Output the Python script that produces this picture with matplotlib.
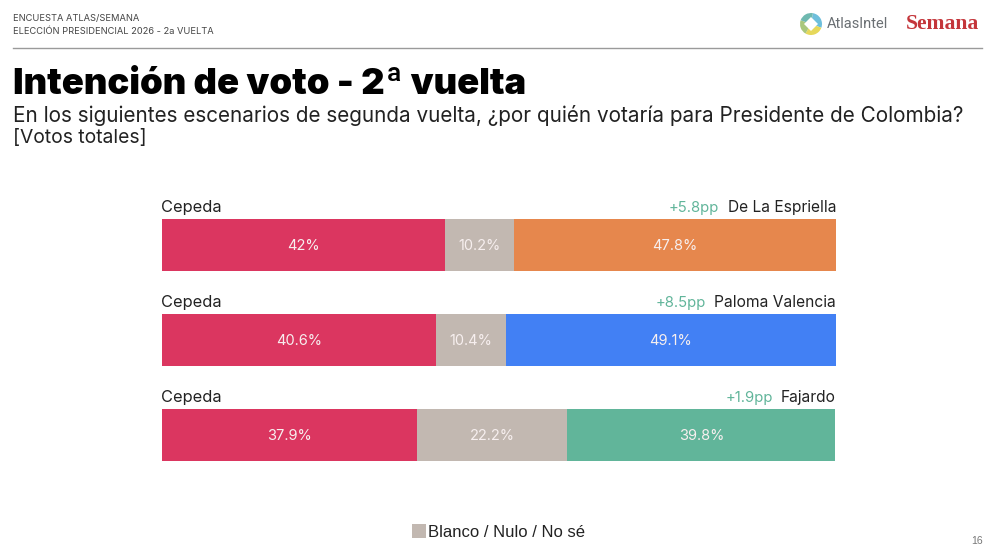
"""Encuesta Atlas/Semana - intencion de voto 2a vuelta, stacked bars."""

from matplotlib import pyplot as plt
from matplotlib.patches import Polygon, Rectangle, Wedge

W, H = 998, 555

candidates = ['De La Espriella', 'Paloma Valencia', 'Fajardo']
left_name = 'Cepeda'
cepeda = [42, 40.6, 37.9]
blanco = [10.2, 10.4, 22.2]
rival = [47.8, 49.1, 39.8]
cepeda_labels = ['42%', '40.6%', '37.9%']
blanco_labels = ['10.2%', '10.4%', '22.2%']
rival_labels = ['47.8%', '49.1%', '39.8%']
margins = ['+5.8pp', '+8.5pp', '+1.9pp']
rival_colors = ['#E6874D', '#4280F4', '#61B59A']

red = '#DB3660'
grey = '#C2B8B1'
teal = '#61B59A'
dark = '#222222'
font = 'Inter'

fig = plt.figure(figsize=(W / 100, H / 100), dpi=100, facecolor='white')


def px(x, y):
    # reference pixel position -> figure fraction
    return x / W, 1 - y / H


def label(x, y, s, **kw):
    kw.setdefault('family', font)
    kw.setdefault('color', dark)
    kw.setdefault('va', 'center')
    fig.text(*px(x, y), s, **kw)


# Header
label(13, 18.5, 'ENCUESTA ATLAS/SEMANA', fontsize=6.7, color='#444444')
label(13, 32, 'ELECCIÓN PRESIDENCIAL 2026 - 2a VUELTA', fontsize=6.7, color='#444444')
fig.add_artist(plt.Line2D([13 / W, 982 / W], [1 - 48 / H] * 2, color='#9A9A9A', lw=1))
label(13, 84, 'Intención de voto - 2ª vuelta', fontsize=26.2, fontweight='black', color='black')
label(13, 116, 'En los siguientes escenarios de segunda vuelta, ¿por quién votaría para Presidente de Colombia?',
      fontsize=14.9)
label(13, 137.5, '[Votos totales]', fontsize=13.9)

# Bars
ax = fig.add_axes([162 / W, 1 - 461 / H, 674 / W, 242 / H])
pad = 52 / 95 / 2
rows = range(len(candidates))
ax.barh(rows, cepeda, height=52 / 95, color=red)
ax.barh(rows, blanco, height=52 / 95, left=cepeda, color=grey)
ax.barh(rows, rival, height=52 / 95, left=[c + b for c, b in zip(cepeda, blanco)], color=rival_colors)
ax.set_xlim(0, 100)
ax.set_ylim(2 + pad, -pad)
ax.axis('off')

for i in rows:
    start = cepeda[i] + blanco[i]
    for x, s in [(cepeda[i] / 2, cepeda_labels[i]),
                 (cepeda[i] + blanco[i] / 2, blanco_labels[i]),
                 (start + (100 - start) / 2, rival_labels[i])]:
        ax.annotate(s, (x, i), xytext=(0, -0.7), textcoords='offset points',
                    color='#F7EFEF', fontsize=10.5, family=font, ha='center', va='center')
    ax.annotate(left_name, (0, i - pad), xytext=(-0.5, 3), textcoords='offset points',
                fontsize=11.8, family=font, color=dark, va='bottom', ha='left')
    name = ax.annotate(candidates[i], (100, i - pad), xytext=(0, 3), textcoords='offset points',
                       fontsize=11.2, family=font, color=dark, va='bottom', ha='right')
    ax.annotate(margins[i], xy=(0, 0), xycoords=name, xytext=(-6, 0), textcoords='offset points',
                fontsize=10.7, family=font, color=teal, va='bottom', ha='right')

# Legend
fig.add_artist(Rectangle(px(412, 538), 14 / W, 14 / H, transform=fig.transFigure, color=grey, lw=0))
label(428.5, 532.5, 'Blanco / Nulo / No sé', fontsize=12, family='Liberation Sans')
label(983, 541, '16', fontsize=7.5, color='#777777', ha='right', family='Liberation Sans')

# Logos
logo = fig.add_axes([0, 0, 1, 1], facecolor='none')
logo.set_xlim(0, W)
logo.set_ylim(H, 0)
logo.axis('off')
# y axis is inverted, angles run clockwise on screen
for start, end, c in [(-80, 20, '#6EBFDC'), (20, 120, '#E6D85A'), (120, 200, '#A9C77C'), (200, 280, '#6FB9B0')]:
    logo.add_patch(Wedge((811, 24), 11, start, end, width=11, color=c, lw=0))
logo.add_patch(Polygon([(811, 17), (818, 24), (811, 31), (804, 24)], color='white', lw=0))
label(827, 24, 'AtlasIntel', fontsize=10.5, color='#6A6F73', family='Roboto')
label(906, 24, 'Semana', fontsize=15.6, color='#C4353A', family='Liberation Serif', fontweight='bold')

fig.savefig('out.png', dpi=100)
